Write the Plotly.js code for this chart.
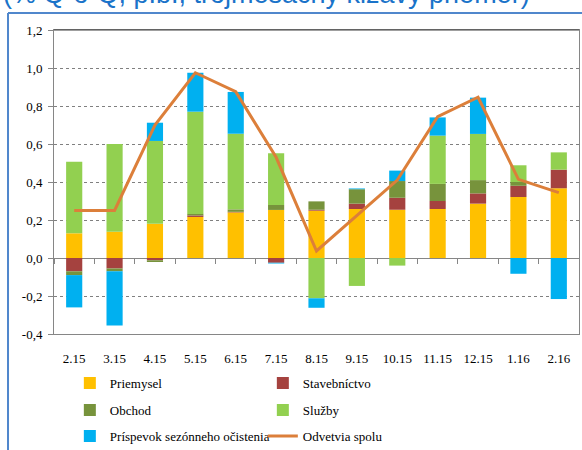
<!DOCTYPE html>
<html>
<head>
<meta charset="utf-8">
<script src="https://cdn.plot.ly/plotly-3.0.1.min.js"></script>
<style>html,body{margin:0;padding:0;background:#fff;}#chart{width:582px;height:450px;}</style>
</head>
<body>
<div id="chart"></div>
<script>
const categories = ['2.15','3.15','4.15','5.15','6.15','7.15','8.15','9.15','10.15','11.15','12.15','1.16','2.16'];
const priemysel    = [0.13, 0.138, 0.18, 0.216, 0.24, 0.253, 0.249, 0.258, 0.254, 0.258, 0.286, 0.321, 0.367];
const stavebnictvo = [-0.07, -0.055, -0.012, 0.008, 0.003, -0.025, 0.005, 0.028, 0.063, 0.042, 0.054, 0.059, 0.098];
const obchod       = [-0.02, -0.015, -0.009, 0.008, 0.013, 0.026, 0.044, 0.076, 0.088, 0.09, 0.07, 0.02, 0];
const sluzby       = [0.376, 0.462, 0.436, 0.538, 0.398, 0.272, -0.212, -0.147, -0.04, 0.254, 0.243, 0.088, 0.091];
const prispevok    = [-0.17, -0.285, 0.096, 0.205, 0.22, -0.004, -0.05, 0.004, 0.055, 0.096, 0.191, -0.083, -0.216];
const odvetviaSpolu = [0.25, 0.25, 0.70, 0.975, 0.875, 0.53, 0.037, 0.225, 0.41, 0.744, 0.846, 0.414, 0.344];
const yTickValues = [-0.4, -0.2, 0, 0.2, 0.4, 0.6, 0.8, 1.0, 1.2];
const yTickLabels = ['-0,4', '-0,2', '0,0', '0,2', '0,4', '0,6', '0,8', '1,0', '1,2'];
const titleText = '(% Q-o-Q, p.b., trojmesačný kĺzavý priemer)';

const serif = '"Liberation Serif", "Times New Roman", serif';
function bar(name, y, color, legend) {
  return {type: 'bar', name: name, x: categories, y: y, marker: {color: color, line: {width: 0}}, legend: legend, hoverinfo: 'skip'};
}
const traces = [
  bar('Priemysel', priemysel, '#ffc000', 'legend'),
  bar('Stavebníctvo', stavebnictvo, '#a5423f', 'legend'),
  bar('Obchod', obchod, '#77933c', 'legend2'),
  bar('Služby', sluzby, '#92d050', 'legend2'),
  bar('Príspevok sezónneho očistenia', prispevok, '#00b0f0', 'legend3'),
  {type: 'scatter', mode: 'lines', name: 'Odvetvia spolu', x: categories, y: odvetviaSpolu,
   xaxis: 'x2', yaxis: 'y', line: {color: '#dc7f3a', width: 3}, legend: 'legend3', hoverinfo: 'skip'}
];

const legendBase = {orientation: 'h', xref: 'container', yref: 'container', x: 0.12, xanchor: 'left',
  yanchor: 'middle', entrywidth: 148, entrywidthmode: 'pixels', font: {family: serif, size: 13, color: '#000'},
  bgcolor: 'rgba(0,0,0,0)', traceorder: 'normal'};

const layout = {
  width: 582, height: 450,
  margin: {l: 54, r: 3, t: 30, b: 116},
  paper_bgcolor: '#fff', plot_bgcolor: '#fff',
  barmode: 'relative', bargap: 0.6,
  showlegend: true,
  font: {family: serif, size: 13, color: '#000'},
  xaxis: {type: 'category', categoryarray: categories, range: [-0.5, 12.5],
    showline: true, linecolor: '#868686', linewidth: 1, mirror: true, ticks: '', showgrid: false,
    tickfont: {family: serif, size: 13, color: '#000'}, ticklabelstandoff: 12, fixedrange: true},
  xaxis2: {type: 'category', categoryarray: categories, range: [-0.5, 12.5], overlaying: 'x',
    anchor: 'free', position: 0.25, side: 'bottom', showticklabels: false, ticks: 'outside',
    tickson: 'boundaries', ticklen: 5, tickcolor: '#868686', showline: false, showgrid: false, zeroline: false},
  yaxis: {range: [-0.4, 1.2], tickvals: yTickValues, ticktext: yTickLabels,
    showline: true, linecolor: '#868686', linewidth: 1, mirror: true,
    ticks: 'outside', ticklen: 5, tickcolor: '#868686', ticklabelstandoff: 3,
    showgrid: true, gridcolor: '#808080', griddash: 'dot', gridwidth: 1,
    zeroline: true, zerolinecolor: '#868686', zerolinewidth: 1,
    tickfont: {family: serif, size: 13, color: '#000'}},
  legend: Object.assign({}, legendBase, {y: 1 - 383/450}),
  legend2: Object.assign({}, legendBase, {y: 1 - 410/450}),
  legend3: Object.assign({}, legendBase, {y: 1 - 436/450}),
  annotations: [{text: titleText, xref: 'paper', yref: 'paper', x: -0.101, y: 1.1185,
    xanchor: 'left', yanchor: 'middle', showarrow: false,
    font: {family: '"Liberation Sans", Arial, sans-serif', size: 27, color: '#1a73c9'}}],
  shapes: [
    {type: 'line', xref: 'paper', yref: 'paper', x0: 0, x1: 1, y0: 1, y1: 1, line: {color: '#404040', width: 1}},
    {type: 'line', xref: 'paper', yref: 'paper', x0: -0.0876, x1: 1.01, y0: 1.056, y1: 1.056, line: {color: '#5087cc', width: 2}},
    {type: 'line', xref: 'paper', yref: 'paper', x0: -0.0876, x1: -0.0876, y0: 1.056, y1: -0.4, line: {color: '#5087cc', width: 2}}
  ]
};
Plotly.newPlot('chart', traces, layout, {staticPlot: true, displayModeBar: false});
</script>
</body>
</html>
